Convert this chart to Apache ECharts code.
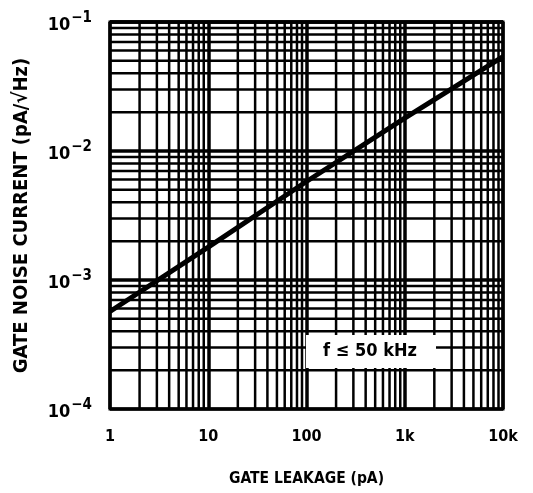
<!DOCTYPE html>
<html>
<head>
<meta charset="utf-8">
<script src="https://cdn.jsdelivr.net/npm/echarts@6/dist/echarts.min.js"></script>
<style>html,body{margin:0;padding:0;background:#fff}#c{width:533px;height:493px}</style>
</head>
<body>
<div id="c"></div>
<script>
// Data
const xTickValues = [1, 10, 100, 1000, 10000];
const xTickLabels = ['1', '10', '100', '1k', '10k'];
const yTickExponents = [-4, -3, -2, -1];
const leakage = [1, 10, 100, 1000, 10000];              // pA
const noise = [5.7e-4, 1.8e-3, 5.8e-3, 1.8e-2, 5.4e-2]; // pA/sqrt(Hz)
const annotationText = 'f \u2264 50 kHz';
const xTitle = 'GATE LEAKAGE (pA)';
const yTitle = 'GATE NOISE CURRENT (pA/\u221AHz)';

const X_MIN = 1, X_MAX = 10000, Y_MIN = 1e-4, Y_MAX = 1e-1;
const FONT = '"DejaVu Sans Condensed", "Liberation Sans", sans-serif';

// minor grid values (2..9 in each decade)
const xMinor = [];
[1, 10, 100, 1000].forEach(d => { for (let k = 2; k <= 9; k++) xMinor.push(k * d); });
const yMinor = [];
[1e-4, 1e-3, 1e-2].forEach(d => { for (let k = 2; k <= 9; k++) yMinor.push(k * d); });

const chart = echarts.init(document.getElementById('c'), null, {renderer: 'canvas'});

function gridLineSeries(values, vertical) {
  return {
    type: 'custom', silent: true, z: 1, clip: false,
    data: values.map(v => vertical ? [v, Y_MIN] : [X_MIN, v]),
    renderItem: function (params, api) {
      let p1, p2;
      if (vertical) {
        p1 = api.coord([api.value(0), Y_MIN]);
        p2 = api.coord([api.value(0), Y_MAX]);
      } else {
        p1 = api.coord([X_MIN, api.value(1)]);
        p2 = api.coord([X_MAX, api.value(1)]);
      }
      return {type: 'line', shape: {x1: p1[0], y1: p1[1], x2: p2[0], y2: p2[1]},
              style: {stroke: '#000', lineWidth: 2.5}};
    }
  };
}

chart.setOption({
  animation: false,
  backgroundColor: '#fff',
  grid: {left: 110, top: 22, right: 30, bottom: 84, show: true, borderColor: '#000', borderWidth: 3, backgroundColor: 'transparent', z: 3},
  xAxis: {
    type: 'log', logBase: 10, min: X_MIN, max: X_MAX,
    axisLine: {show: false}, axisTick: {show: false},
    splitLine: {show: true, lineStyle: {color: '#000', width: 3.5}},
    axisLabel: {
      margin: 20, color: '#000', fontFamily: FONT, fontWeight: 'bold', fontSize: 16,
      formatter: v => { const i = xTickValues.findIndex(t => Math.abs(t - v) / t < 1e-6); return i >= 0 ? xTickLabels[i] : ''; }
    },
    name: xTitle, nameLocation: 'middle', nameGap: 62,
    nameTextStyle: {color: '#000', fontFamily: FONT, fontWeight: 'bold', fontSize: 15.5}
  },
  yAxis: {
    type: 'log', logBase: 10, min: Y_MIN, max: Y_MAX,
    axisLine: {show: false}, axisTick: {show: false},
    splitLine: {show: true, lineStyle: {color: '#000', width: 3.5}},
    axisLabel: {
      margin: 18, color: '#000', fontFamily: FONT, fontWeight: 'bold', fontSize: 18,
      formatter: v => { const e = Math.round(Math.log10(v)); return '{b|10}{s|\u2212' + Math.abs(e) + '}'; },
      rich: {
        b: {fontFamily: FONT, fontWeight: 'bold', fontSize: 18, color: '#000', padding: [6, 0, 0, 0]},
        s: {fontFamily: FONT, fontWeight: 'bold', fontSize: 15, color: '#000', padding: [0, 0, 8, 1]}
      }
    },
    name: yTitle, nameLocation: 'middle', nameGap: 78,
    nameTextStyle: {color: '#000', fontFamily: FONT, fontWeight: 'bold', fontSize: 20}
  },
  series: [
    gridLineSeries(xMinor, true),
    gridLineSeries(yMinor, false),
    {
      type: 'line', z: 5,
      data: leakage.map((x, i) => [x, noise[i]]),
      showSymbol: false, symbol: 'none',
      lineStyle: {color: '#000', width: 5}
    }
  ],
  graphic: [
    {
      type: 'rect', z: 100, shape: {x: 306, y: 335, width: 130, height: 33},
      style: {fill: '#fff'}
    },
    {
      type: 'text', z: 101, x: 370, y: 351,
      style: {text: annotationText, fill: '#000', font: 'bold 18px ' + FONT, align: 'center', verticalAlign: 'middle'}
    }
  ]
});
</script>
</body>
</html>
